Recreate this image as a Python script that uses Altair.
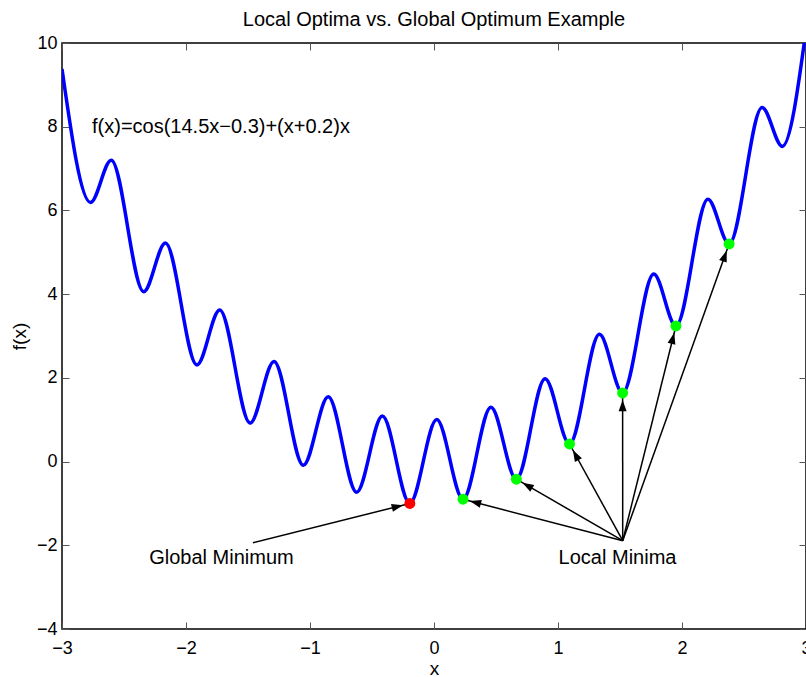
import math
import altair as alt
import pandas as pd

# ---- data ----
curve_x = [-3.0, -2.77, -2.603, -2.341, -2.166, -1.912, -1.728, -1.483, -1.290, -1.054,
           -0.853, -0.624, -0.416, -0.195, 0.022, 0.234, 0.459, 0.664, 0.896, 1.093,
           1.334, 1.521, 1.772, 1.951, 2.209, 2.380, 2.646, 2.809, 3.0]
curve_y = [9.38, 6.19, 7.20, 4.06, 5.22, 2.31, 3.62, 0.92, 2.39, -0.09,
           1.55, -0.73, 1.09, -1.00, 1.005, -0.90, 1.30, -0.42, 1.98, 0.42,
           3.04, 1.64, 4.48, 3.24, 6.27, 5.20, 8.46, 7.53, 10.31]

global_x = [-0.195]
global_y = [-1.00]
local_x = [0.234, 0.664, 1.093, 1.521, 1.951, 2.380]
local_y = [-0.90, -0.42, 0.42, 1.64, 3.24, 5.20]

global_arrow_from = [-1.46, -1.94]
local_arrow_from = [1.522, -1.89]

label_x = [-1.714, 1.480]
label_y = [-2.31, -2.31]
label_text = ["Global Minimum", "Local Minima"]

formula_x = [-2.758]
formula_y = [7.99]
formula_text = ["f(x)=cos(14.5x\u22120.3)+(x+0.2)x"]

x_ticks = [-3, -2, -1, 0, 1, 2, 3]
y_ticks = [-4, -2, 0, 2, 4, 6, 8, 10]
x_domain = [-3, 3]
y_domain = [-4, 10]

# ---- layout ----
W, H = 744, 586
FONT = "Liberation Sans"
kx = W / (x_domain[1] - x_domain[0])
ky = H / (y_domain[1] - y_domain[0])

curve_df = pd.DataFrame({"x": curve_x, "y": curve_y})
global_df = pd.DataFrame({"x": global_x, "y": global_y})
local_df = pd.DataFrame({"x": local_x, "y": local_y})

rows = []
for tx, ty in zip(global_x, global_y):
    rows.append((global_arrow_from[0], global_arrow_from[1], tx, ty))
for tx, ty in zip(local_x, local_y):
    rows.append((local_arrow_from[0], local_arrow_from[1], tx, ty))
arrow_df = pd.DataFrame(rows, columns=["x0", "y0", "x1", "y1"])
arrow_df["angle"] = [
    math.degrees(math.atan2((r.x1 - r.x0) * kx, (r.y1 - r.y0) * ky)) % 360
    for r in arrow_df.itertuples()
]

labels_df = pd.DataFrame({"x": label_x, "y": label_y, "text": label_text})
formula_df = pd.DataFrame({"x": formula_x, "y": formula_y, "text": formula_text})

xs = alt.Scale(domain=x_domain, nice=False, zero=False)
ys = alt.Scale(domain=y_domain, nice=False, zero=False)

tick_only = dict(domain=False, grid=False, tickSize=7, offset=-7,
                 tickColor="#555555", tickWidth=1)
label_style = dict(labelFont=FONT, labelFontSize=18, labelColor="black",
                   titleFont=FONT, titleFontSize=19, titleFontWeight="normal",
                   titleColor="black", labelFlush=False)

x_axis = alt.Axis(orient="bottom", values=x_ticks, labelPadding=10, title="x",
                  titlePadding=2, **tick_only, **label_style)
y_axis = alt.Axis(orient="left", values=y_ticks, labelPadding=5, title="f(x)",
                  titlePadding=7, **tick_only, **label_style)
x_top = alt.Axis(orient="top", values=x_ticks, labels=False, title=None, **tick_only)
y_right = alt.Axis(orient="right", values=y_ticks, labels=False, title=None, **tick_only)

curve = alt.Chart(curve_df).mark_line(
    interpolate="monotone", color="#0000FF", strokeWidth=3.5, clip=True
).encode(
    x=alt.X("x:Q", scale=xs, axis=x_axis),
    y=alt.Y("y:Q", scale=ys, axis=y_axis),
)

frame_ticks = alt.Chart(curve_df).mark_line(opacity=0, clip=True).encode(
    x=alt.X("x:Q", scale=xs, axis=x_top),
    y=alt.Y("y:Q", scale=ys, axis=y_right),
)

arrow_lines = alt.Chart(arrow_df).mark_rule(color="black", strokeWidth=1.5).encode(
    x=alt.X("x0:Q", scale=xs, axis=None),
    y=alt.Y("y0:Q", scale=ys, axis=None),
    x2="x1:Q",
    y2="y1:Q",
)

arrow_heads = alt.Chart(arrow_df).mark_point(
    shape="M0,1.75 L-1,4.6 L1,4.6 Z", filled=True, color="black", size=64,
    opacity=1, strokeWidth=0,
).encode(
    x=alt.X("x1:Q", scale=xs, axis=None),
    y=alt.Y("y1:Q", scale=ys, axis=None),
    angle=alt.Angle("angle:Q", scale=None),
)

global_pt = alt.Chart(global_df).mark_circle(color="#FF0000", size=120, opacity=1).encode(
    x=alt.X("x:Q", scale=xs, axis=None),
    y=alt.Y("y:Q", scale=ys, axis=None),
)
local_pts = alt.Chart(local_df).mark_circle(color="#00FF00", size=120, opacity=1).encode(
    x=alt.X("x:Q", scale=xs, axis=None),
    y=alt.Y("y:Q", scale=ys, axis=None),
)

labels = alt.Chart(labels_df).mark_text(
    font=FONT, fontSize=20, align="center", baseline="middle", color="black"
).encode(
    x=alt.X("x:Q", scale=xs, axis=None),
    y=alt.Y("y:Q", scale=ys, axis=None),
    text="text:N",
)
formula = alt.Chart(formula_df).mark_text(
    font=FONT, fontSize=20, align="left", baseline="middle", color="black"
).encode(
    x=alt.X("x:Q", scale=xs, axis=None),
    y=alt.Y("y:Q", scale=ys, axis=None),
    text="text:N",
)

chart = alt.layer(
    curve, frame_ticks, arrow_lines, arrow_heads, global_pt, local_pts, labels, formula
).resolve_axis(
    x="independent", y="independent"
).properties(
    width=W, height=H,
    title=alt.TitleParams(
        "Local Optima vs. Global Optimum Example", font=FONT, fontSize=20,
        fontWeight="normal", color="black", anchor="middle", offset=4,
    ),
    autosize=alt.AutoSizeParams(type="none"),
    padding={"left": 62, "top": 43, "right": 0, "bottom": 48},
).configure(
    background="white",
    view=alt.ViewConfig(stroke="black", strokeWidth=1.5),
)

chart.save("out.html", embed_options={"renderer": "svg", "actions": False})
